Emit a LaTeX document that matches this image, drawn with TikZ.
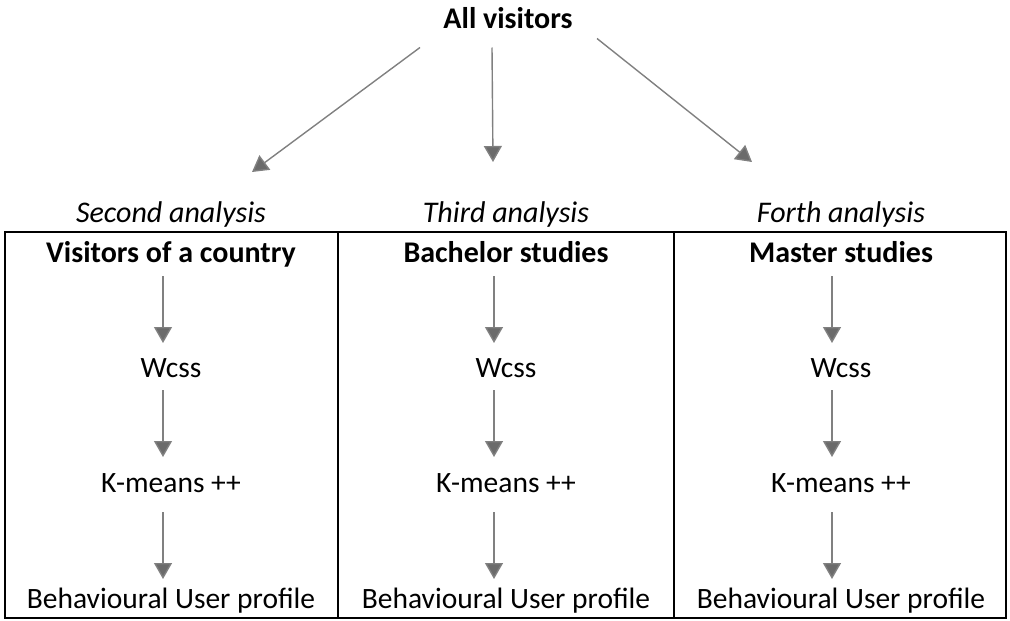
\documentclass[tikz,border=0pt]{standalone}
\usepackage{fontspec}
\setmainfont{Carlito}
\usetikzlibrary{arrows.meta}
\begin{document}
\begin{tikzpicture}[x=1pt,y=-1pt,
  txt/.style={inner sep=0pt,font=\fontsize{29.5}{36}\selectfont,text height=0.66em,text depth=0.2em},
  head/.style={txt,font=\fontsize{30}{36}\selectfont\itshape},
  ttl/.style={txt,font=\fontsize{30}{36}\selectfont\bfseries},
  arr/.style={draw=black!50,line width=1.4pt,-{Triangle[length=16pt,width=18pt,fill=black!58]}},
  frame/.style={draw=black,line width=2pt}]
\useasboundingbox (0,0) rectangle (1010,621);
\node[ttl] (all) at (508,26) {All visitors};
\node[head] (h1) at (171,220) {Second analysis};
\node[head] (h2) at (506,220) {Third analysis};
\node[head] (h3) at (841,220) {Forth analysis};
\node[ttl] (t1) at (171,260) {Visitors of a country};
\node[ttl] (t2) at (506,260) {Bachelor studies};
\node[ttl] (t3) at (841,260) {Master studies};
\foreach \i/\x in {1/171,2/506,3/841}{
  \node[txt] (w\i) at (\x,375) {Wcss};
  \node[txt] (k\i) at (\x,490) {K-means ++};
  \node[txt] (b\i) at (\x,606) {Behavioural User profile};
}
\coordinate (a1) at (252,172);
\coordinate (a2) at (493,162);
\coordinate (a3) at (752,162);
\draw[arr] ([xshift=-88pt,yshift=-17pt]all.south) -- (a1);
\draw[arr] ([xshift=-16pt,yshift=-17pt]all.south) -- (a2);
\draw[arr] ([xshift=89pt,yshift=-8pt]all.south) -- (a3);
\draw[frame] (5,232) rectangle (1006,618);
\draw[frame] (338,232) -- (338,618);
\draw[frame] (674,232) -- (674,618);
\foreach \i/\d in {1/-8,2/-12,3/-9}{
  \draw[arr] ([xshift=\d pt,yshift=-16pt]t\i.center) -- ([xshift=\d pt,yshift=32pt]w\i.center);
  \draw[arr] ([xshift=\d pt,yshift=-15pt]w\i.center) -- ([xshift=\d pt,yshift=33pt]k\i.center);
  \draw[arr] ([xshift=\d pt,yshift=-22pt]k\i.center) -- ([xshift=\d pt,yshift=27pt]b\i.center);
}
\end{tikzpicture}
\end{document}
